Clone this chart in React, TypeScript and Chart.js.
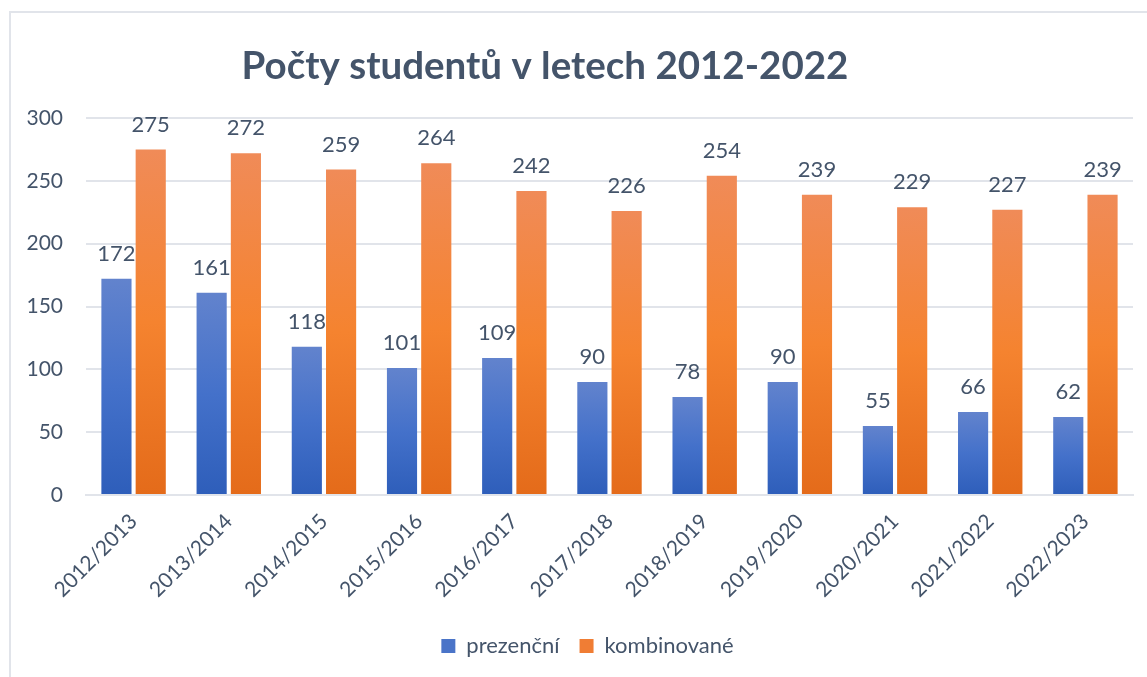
import React, { useEffect, useRef } from "react";
import { Chart, registerables } from "chart.js";

Chart.register(...registerables);

const categories = [
  "2012/2013", "2013/2014", "2014/2015", "2015/2016", "2016/2017", "2017/2018",
  "2018/2019", "2019/2020", "2020/2021", "2021/2022", "2022/2023",
];
const prezencni = [172, 161, 118, 101, 109, 90, 78, 90, 55, 66, 62];
const kombinovane = [275, 272, 259, 264, 242, 226, 254, 239, 229, 227, 239];
const yTicks = [0, 50, 100, 150, 200, 250, 300];
const titleText = "Počty studentů v letech 2012-2022";

const TEXT = "#44546A";
const GRID = "#E1E4EA";
const FONT = "Lato, 'Open Sans', sans-serif";

const gradientFor = (stops: string[]) => (ctx: any) => {
  const chart = ctx.chart;
  const y = chart.scales?.y;
  if (!chart.chartArea || !y || ctx.type !== "data") return stops[1];
  const v = ctx.parsed?.y ?? 0;
  const top = y.getPixelForValue(v);
  const bottom = y.getPixelForValue(0);
  if (!isFinite(top) || !isFinite(bottom) || top === bottom) return stops[1];
  const g = chart.ctx.createLinearGradient(0, top, 0, bottom);
  g.addColorStop(0, stops[0]);
  g.addColorStop(0.5, stops[1]);
  g.addColorStop(1, stops[2]);
  return g;
};

const dataLabels = {
  id: "dataLabels",
  afterDatasetsDraw(chart: any) {
    const { ctx } = chart;
    ctx.save();
    ctx.font = `22px ${FONT}`;
    ctx.fillStyle = TEXT;
    ctx.textAlign = "center";
    ctx.textBaseline = "middle";
    chart.data.datasets.forEach((ds: any, i: number) => {
      const meta = chart.getDatasetMeta(i);
      meta.data.forEach((bar: any, j: number) => {
        ctx.fillText(String(ds.data[j]), bar.x, bar.y - 25);
      });
    });
    ctx.restore();
  },
};

const legendShift = {
  id: "legendShift",
  afterLayout(chart: any) {
    if (chart.legend) {
      chart.legend.left += 16;
      chart.legend.right += 16;
    }
  },
};

const frame = {
  id: "frame",
  beforeDraw(chart: any) {
    const { ctx, width, height } = chart;
    ctx.save();
    ctx.fillStyle = "#ffffff";
    ctx.fillRect(0, 0, width, height);
    ctx.strokeStyle = GRID;
    ctx.lineWidth = 2;
    ctx.beginPath();
    ctx.moveTo(10, height + 5);
    ctx.lineTo(10, 12);
    ctx.lineTo(width + 5, 12);
    ctx.stroke();
    ctx.font = `bold 38.5px ${FONT}`;
    ctx.fillStyle = TEXT;
    ctx.textAlign = "center";
    ctx.textBaseline = "middle";
    ctx.fillText(titleText, 545, 67);
    ctx.restore();
  },
};

export default function App() {
  const ref = useRef<HTMLCanvasElement>(null);
  useEffect(() => {
    document.body.style.margin = "0";
    const chart = new Chart(ref.current!, {
      type: "bar",
      data: {
        labels: categories,
        datasets: [
          {
            label: "prezenční",
            data: prezencni,
            backgroundColor: gradientFor(["#6283CD", "#4471CA", "#2E5EBA"]),
            categoryPercentage: 0.72,
            barPercentage: 0.88,
          },
          {
            label: "kombinované",
            data: kombinovane,
            backgroundColor: gradientFor(["#F08B58", "#F5832F", "#E46B1A"]),
            categoryPercentage: 0.72,
            barPercentage: 0.88,
          },
        ],
      },
      options: {
        animation: false,
        responsive: false,
        maintainAspectRatio: false,
        layout: { padding: { left: 10, right: 14, top: 118, bottom: 10 } },
        plugins: {
          title: { display: false },
          legend: {
            position: "bottom",
            labels: {
              color: TEXT,
              font: { family: FONT, size: 22 },
              boxWidth: 14,
              boxHeight: 14,
              padding: 20,
              generateLabels(chart: any) {
                const cols = ["#4A74C8", "#F07D34"];
                return chart.data.datasets.map((ds: any, i: number) => ({
                  text: ds.label,
                  fillStyle: cols[i],
                  strokeStyle: cols[i],
                  lineWidth: 0,
                  fontColor: TEXT,
                  datasetIndex: i,
                  hidden: false,
                }));
              },
            },
          },
          tooltip: { enabled: false },
        },
        scales: {
          x: {
            grid: { display: false },
            border: { display: true, color: GRID, width: 2 },
            ticks: {
              color: TEXT,
              font: { family: FONT, size: 21 },
              maxRotation: 45,
              minRotation: 45,
              padding: 6,
            },
            afterFit(scale: any) {
              scale.height = 120;
            },
          },
          y: {
            min: 0,
            max: 300,
            afterBuildTicks(scale: any) {
              scale.ticks = yTicks.map((v) => ({ value: v }));
            },
            grid: { color: GRID, lineWidth: 2, drawTicks: false },
            border: { display: false },
            ticks: {
              color: TEXT,
              font: { family: FONT, size: 21 },
              padding: 23,
            },
            afterFit(scale: any) {
              scale.width = 76;
            },
          },
        },
      },
      plugins: [frame, dataLabels, legendShift],
    } as any);
    return () => chart.destroy();
  }, []);
  return (
    <div style={{ position: "fixed", left: 0, top: 0, width: 1147, height: 677, background: "#fff" }}>
      <canvas ref={ref} width={1147} height={677} style={{ display: "block" }} />
    </div>
  );
}
